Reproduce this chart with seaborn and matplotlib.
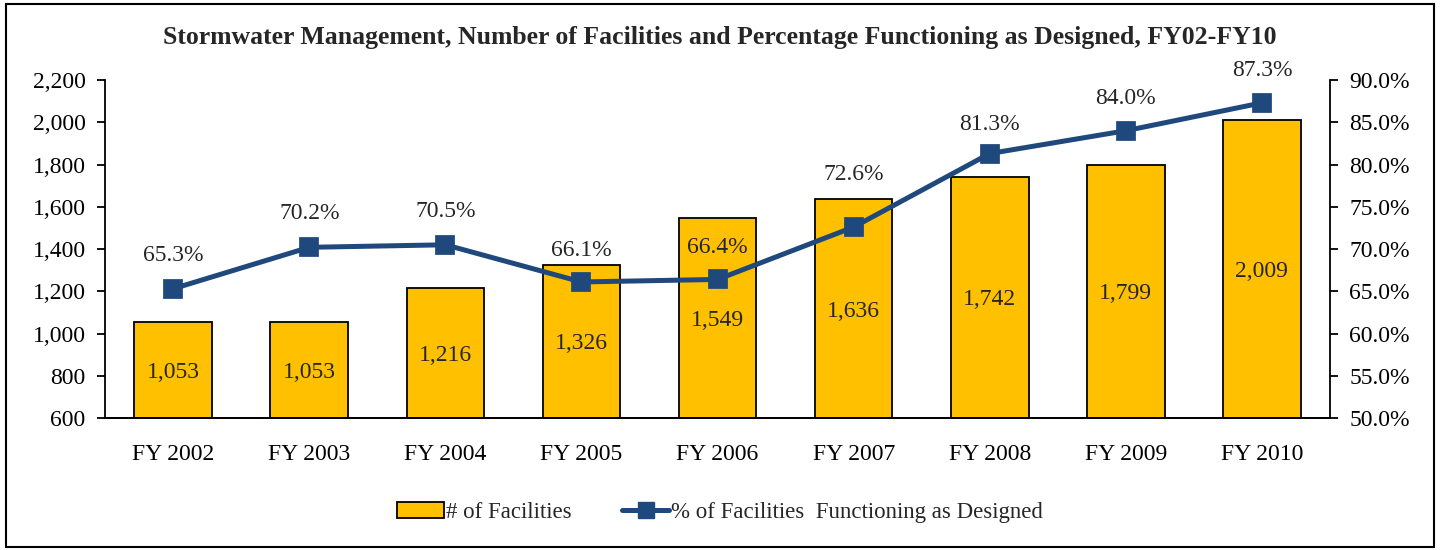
import matplotlib
matplotlib.use("Agg")
import matplotlib.pyplot as plt
import seaborn as sns
import pandas as pd
from matplotlib.patches import Rectangle, Patch
from matplotlib.lines import Line2D
from matplotlib.ticker import FuncFormatter, MultipleLocator

years = ["FY 2002", "FY 2003", "FY 2004", "FY 2005", "FY 2006",
         "FY 2007", "FY 2008", "FY 2009", "FY 2010"]
facilities = [1053, 1053, 1216, 1326, 1549, 1636, 1742, 1799, 2009]
pct_functioning = [65.3, 70.2, 70.5, 66.1, 66.4, 72.6, 81.3, 84.0, 87.3]

# label offsets above the line points (points)
label_offsets = [24, 24, 24, 23, 23, 38, 21, 23, 23]

bar_color = "#FFC000"
line_color = "#1F497D"
FS = 17

sns.set_theme(style="white")
plt.rcParams["font.family"] = ["Liberation Serif", "DejaVu Serif"]

df = pd.DataFrame({"year": years, "fac": facilities, "pct": pct_functioning})

fig = plt.figure(figsize=(14.4, 5.5), dpi=100)
ax = fig.add_axes([0.073, 0.24, 0.8506, 0.6145])

sns.barplot(data=df, x="year", y="fac", ax=ax, color=bar_color,
            edgecolor="black", linewidth=1.3, width=0.57, saturation=1)
ax.set_ylim(600, 2200)
ax.yaxis.set_major_locator(MultipleLocator(200))
ax.yaxis.set_major_formatter(FuncFormatter(lambda v, p: f"{int(v):,}"))
ax.set_xlabel("")
ax.set_ylabel("")
for i, v in enumerate(facilities):
    ax.text(i, (600 + v) / 2, f"{v:,}", ha="center", va="center_baseline", fontsize=FS)

ax2 = ax.twinx()
sns.pointplot(data=df, x="year", y="pct", ax=ax2, color=line_color,
              markers="s", markersize=12, linewidth=3.6)
ax2.set_ylim(50, 90)
ax2.yaxis.set_major_locator(MultipleLocator(5))
ax2.yaxis.set_major_formatter(FuncFormatter(lambda v, p: f"{v:.1f}%"))
ax2.set_ylabel("")
ax2.set_xlabel("")
for i, v in enumerate(pct_functioning):
    ax2.annotate(f"{v:.1f}%", (i, v), xytext=(0, label_offsets[i]), textcoords="offset points",
                 ha="center", va="center", fontsize=FS)

ax.set_xlim(-0.5, len(years) - 0.5)
ax2.set_xlim(-0.5, len(years) - 0.5)

for a in (ax, ax2):
    for s in a.spines.values():
        s.set_visible(False)
    a.spines["bottom"].set_visible(True)
    a.spines["bottom"].set_color("black")
    a.spines["bottom"].set_linewidth(1.3)
ax.spines["left"].set_visible(True)
ax.spines["left"].set_color("black")
ax.spines["left"].set_linewidth(1.3)
ax2.spines["right"].set_visible(True)
ax2.spines["right"].set_color("black")
ax2.spines["right"].set_linewidth(1.3)

ax.tick_params(axis="y", direction="out", length=6, width=1.3, color="black",
               left=True, labelsize=FS, pad=8, labelcolor="black")
ax.tick_params(axis="x", bottom=False, labelsize=FS, pad=13, labelcolor="black")
ax2.tick_params(axis="y", direction="out", length=6, width=1.3, color="black",
                right=True, labelsize=FS, pad=8, labelcolor="black")

fig.text(0.5, 0.932, "Stormwater Management, Number of Facilities and Percentage Functioning as Designed, FY02-FY10",
         ha="center", va="center", fontsize=18.5, fontweight="bold")

handles = [Patch(facecolor=bar_color, edgecolor="black", linewidth=1.3),
           Line2D([], [], color=line_color, linewidth=3.6, marker="s", markersize=12)]
fig.legend(handles, ["# of Facilities", "% of Facilities  Functioning as Designed"],
           loc="center", bbox_to_anchor=(0.5, 0.068), ncol=2, frameon=False,
           fontsize=16.5, handlelength=2.05, handletextpad=0.1, columnspacing=2.2)

fig.patches.append(Rectangle((0.004, 0.006), 0.992, 0.987, transform=fig.transFigure,
                             fill=False, edgecolor="black", linewidth=1.5))

fig.savefig("out.png", dpi=100)
